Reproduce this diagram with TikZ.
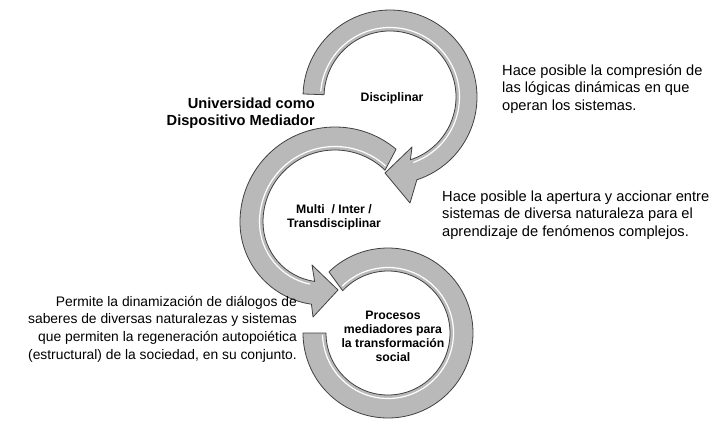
\documentclass[tikz,border=0pt]{standalone}
\usepackage{fontspec}
\setmainfont{Liberation Sans}
\begin{document}
\begin{tikzpicture}[x=1bp,y=1bp,
  band/.style={fill=gray!55, draw=black!75, line width=0.8bp, line join=round},
  shine/.style={draw=white, line width=1.2bp, line cap=round},
  body/.style={font=\fontsize{14.7}{17.5}\selectfont, inner sep=0pt},
  lab/.style={font=\bfseries\fontsize{12.3}{14}\selectfont, align=center, inner sep=0pt}]
\useasboundingbox (0,0) rectangle (715,423);
% Arc 1 : Disciplinar
\begin{scope}[shift={(390,326)}]
  \path[band] (178:87) arc[start angle=178,end angle=-72,radius=87]
     -- (20,-106) -- (-5,-76) -- (22,-50) -- (-72:66)
     arc[start angle=-72,end angle=178,radius=66] -- cycle;
  \draw[shine] (175:69.5) arc[start angle=175,end angle=-70,radius=69.5];
\end{scope}
% Arc 2 : Multi / Inter / Trans
\begin{scope}[shift={(335,201)}]
  \path[band] (50:95) arc[start angle=50,end angle=180,radius=95]
     arc[start angle=180,end angle=262,radius=83]
     -- (-22,-95) -- (3,-68) -- (-23,-43) -- ([shift={(-12,0)}]262:60)
     arc[start angle=262,end angle=180,radius=60]
     arc[start angle=180,end angle=46,radius=72] -- cycle;
  \draw[shine] (48:75.5) arc[start angle=48,end angle=180,radius=75.5]
     arc[start angle=180,end angle=258,radius=63.5];
\end{scope}
% Arc 3 : Procesos
\begin{scope}[shift={(388,90)}]
  \path[band] (134:85) arc[start angle=134,end angle=-180,radius=85]
     -- (-180:62) arc[start angle=-180,end angle=137,radius=62] -- cycle;
  \draw[shine] (134:65.5) arc[start angle=134,end angle=-178,radius=65.5];
\end{scope}
% labels
\node[lab] (disc) at (392,325) {Disciplinar};
\node[lab] (multi) at (334,206) {Multi\ \ / Inter /\\Transdisciplinar};
\node[lab] (proc) at (393,87) {Procesos\\mediadores para\\la transformación\\social};
\node[body, font=\bfseries\fontsize{14.7}{17}\selectfont, align=right, anchor=east] (univ) at (315,309.5) {Universidad como\\Dispositivo Mediador};
\node[body, align=left, anchor=west] (t1) at (502,334) {Hace posible la compresión de\\las lógicas dinámicas en que\\operan los sistemas.};
\node[body, align=left, anchor=west] (t2) at (442,208) {Hace posible la apertura y accionar entre\\sistemas de diversa naturaleza para el\\aprendizaje de fenómenos complejos.};
\node[body, font=\fontsize{13.9}{17.8}\selectfont, align=right, anchor=east] (t3) at (297,94) {Permite la dinamización de diálogos de\\saberes de diversas naturalezas y sistemas\\que permiten la regeneración autopoiética\\(estructural) de la sociedad, en su conjunto.};
\end{tikzpicture}
\end{document}
